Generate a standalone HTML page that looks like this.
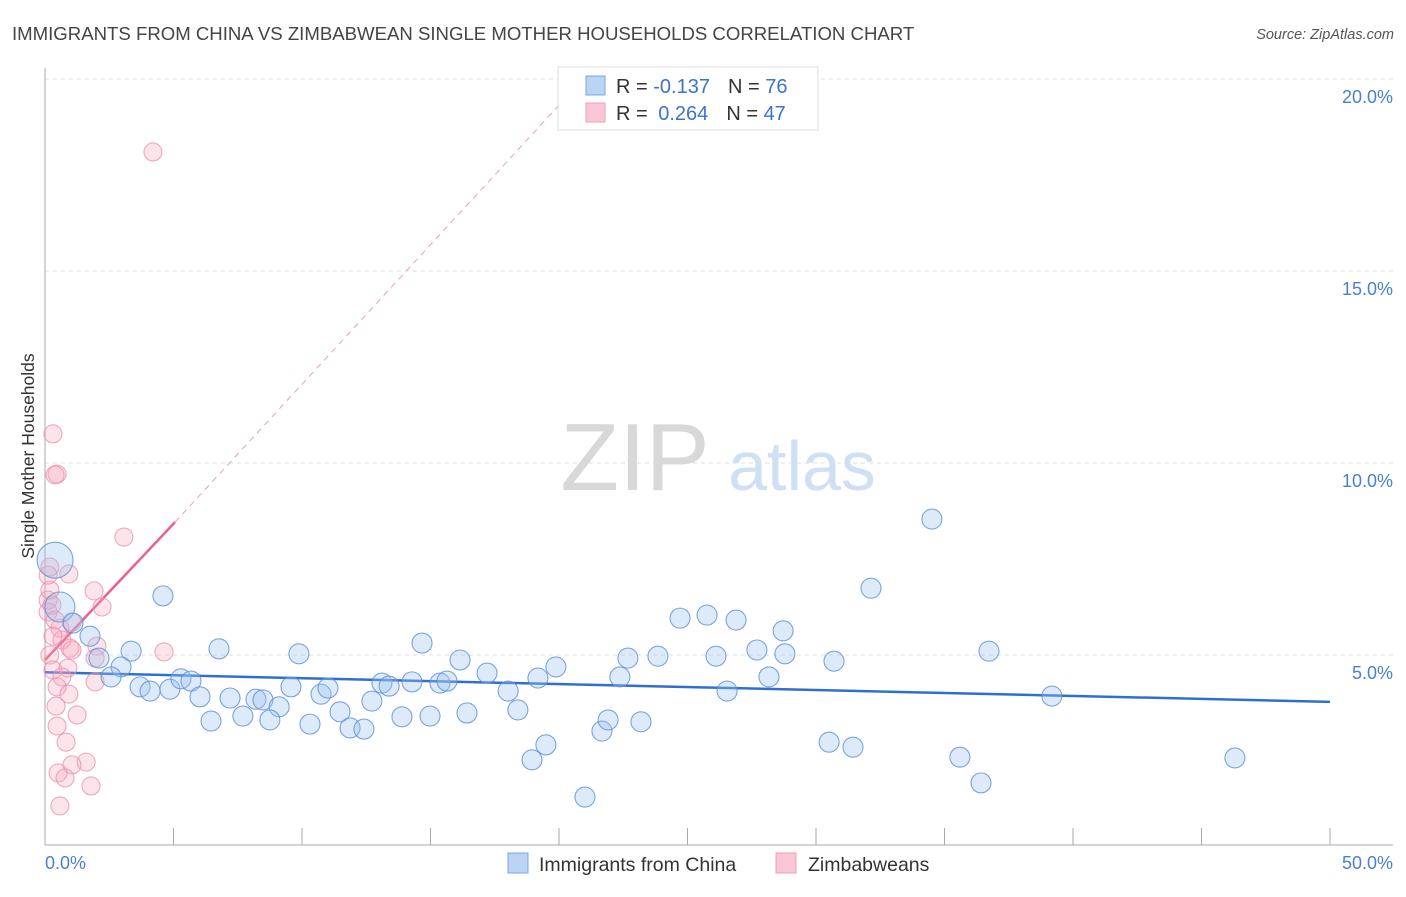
<!DOCTYPE html>
<html><head><meta charset="utf-8">
<style>
body{margin:0;background:#fff;font-family:"Liberation Sans",sans-serif;}
svg text{font-family:"Liberation Sans",sans-serif;}
</style></head>
<body>
<svg id="chart" width="1406" height="892" viewBox="0 0 1406 892" xmlns="http://www.w3.org/2000/svg">
<text x="12" y="40" font-size="18.6" fill="#444">IMMIGRANTS FROM CHINA VS ZIMBABWEAN SINGLE MOTHER HOUSEHOLDS CORRELATION CHART</text>
<text x="1394" y="39" font-size="14.5" fill="#555" text-anchor="end" font-style="italic">Source: ZipAtlas.com</text>
<g>
<text x="635" y="490" font-size="96" fill="#d8d8d8" font-family="Liberation Serif" text-anchor="middle">ZIP</text>
<text x="802" y="490" font-size="70" fill="#cfe0f4" text-anchor="middle">atlas</text>
</g>
<g id="grid"></g>
<g id="axes"></g>
<g id="trend"></g>
<g id="marks"></g>
<text transform="translate(34,456) rotate(-90)" font-size="17.5" fill="#333" text-anchor="middle">Single Mother Households</text>
<g>
<rect x="558" y="67" width="260" height="63" fill="#fff" stroke="#ddd"/>
<rect x="586" y="76" width="19" height="19" fill="#bcd4f4" stroke="#7aa6e0"/>
<rect x="586" y="103" width="19" height="19" fill="#f9c6d5" stroke="#eda0b8"/>
<text x="616" y="93" font-size="20" fill="#333">R = <tspan fill="#3a73d0">-0.137</tspan><tspan dx="18">N = </tspan><tspan fill="#3a73d0">76</tspan></text>
<text x="616" y="120" font-size="20" fill="#333">R = <tspan fill="#3a73d0" dx="5">0.264</tspan><tspan dx="18">N = </tspan><tspan fill="#3a73d0">47</tspan></text>
</g>
<g>
<rect x="508" y="853" width="20" height="20" fill="#bcd4f4" stroke="#7aa6e0"/>
<text x="539" y="871" font-size="19.5" fill="#333">Immigrants from China</text>
<rect x="776" y="853" width="20" height="20" fill="#f9c6d5" stroke="#eda0b8"/>
<text x="808" y="871" font-size="19.5" fill="#333">Zimbabweans</text>
</g>
</svg>
<script>
const yTicks=[5,10,15,20];
const xTickLabels=["0.0%","50.0%"];
const chinaX=[0.39,0.58,1.09,1.75,2.10,3.35,2.96,2.57,3.70,4.09,4.86,5.29,5.68,6.03,4.59,6.77,7.20,6.46,7.70,8.21,8.48,9.11,8.75,9.57,9.88,10.31,10.74,11.01,11.48,11.87,12.41,12.72,13.11,13.39,13.89,14.28,14.67,14.98,15.37,15.64,16.15,16.42,17.20,18.02,18.40,18.95,19.18,19.49,19.88,21.01,21.67,21.91,22.37,22.68,23.19,23.85,24.71,25.76,26.11,26.54,26.89,27.70,28.17,28.72,28.79,30.51,30.70,31.44,32.14,34.51,35.60,36.42,36.73,39.18,46.30];
const chinaY=[7.47,6.25,5.83,5.49,4.92,5.10,4.69,4.43,4.17,4.06,4.11,4.38,4.32,3.91,6.54,5.16,3.88,3.28,3.41,3.85,3.83,3.65,3.31,4.17,5.03,3.20,3.98,4.14,3.52,3.10,3.07,3.80,4.27,4.19,3.39,4.30,5.31,3.41,4.27,4.32,4.87,3.49,4.53,4.06,3.57,2.27,4.40,2.66,4.69,1.30,3.02,3.31,4.43,4.92,3.26,4.97,5.96,6.04,4.97,4.06,5.91,5.13,4.43,5.63,5.03,2.73,4.84,2.60,6.74,8.54,2.34,1.67,5.10,3.93,2.32];
const chinaSize=[18,15,10,10,10,10,10,10,10,10,10,10,10,10,10,10,10,10,10,10,10,10,10,10,10,10,10,10,10,10,10,10,10,10,10,10,10,10,10,10,10,10,10,10,10,10,10,10,10,10,10,10,10,10,10,10,10,10,10,10,10,10,10,10,10,10,10,10,10,10,10,10,10,10,10];
const zimX=[4.20,0.31,0.47,0.39,3.07,0.19,0.93,1.91,2.22,0.12,0.27,0.12,0.39,0.58,1.05,0.66,0.97,1.05,2.02,0.31,4.63,1.95,0.19,0.31,0.89,0.66,0.47,1.95,0.93,0.43,1.25,0.47,0.82,1.60,1.05,0.51,0.78,1.79,0.58,0.19,0.12];
const zimY=[18.10,10.76,9.71,9.69,8.07,7.29,7.11,6.67,6.25,6.43,6.30,6.12,5.91,5.70,5.86,5.39,5.18,5.13,5.23,5.49,5.08,4.92,5.00,4.61,4.66,4.43,4.17,4.30,3.98,3.67,3.44,3.15,2.73,2.21,2.14,1.93,1.80,1.59,1.07,6.69,7.08];
const chinaTrend=[[0,4.55],[50,3.78]];
const zimTrend=[[0,4.87],[5.06,8.46]];
const zimTrendExt=[[5.06,8.46],[20.8,19.9]];

const NS="http://www.w3.org/2000/svg";
const X0=45,X1=1330,Y0=847,PXY=38.4;
const sx=v=>X0+(X1-X0)*v/50;
const sy=v=>Y0-PXY*v;
function mk(tag,attrs,parent){const e=document.createElementNS(NS,tag);for(const k in attrs)e.setAttribute(k,attrs[k]);parent.appendChild(e);return e;}
const grid=document.getElementById('grid'),axes=document.getElementById('axes'),marks=document.getElementById('marks'),trend=document.getElementById('trend');
yTicks.forEach(t=>{
 const l=mk('line',{x1:X0,x2:1393,y1:sy(t),y2:sy(t),stroke:'#ddd','stroke-dasharray':'4,4'},grid);
 
 
 const tx=mk('text',{x:1393,y:sy(t)+24,'font-size':18,fill:'#4a7fd4','text-anchor':'end'},axes);
 tx.textContent=t.toFixed(1)+'%';
 
 
});
let a=mk('line',{x1:X0,x2:X0,y1:68,y2:845,stroke:'#aaa'},axes);


a=mk('line',{x1:X0,x2:1393,y1:845,y2:845,stroke:'#aaa'},axes);


for(let i=0;i<=10;i++){
 const t=mk('line',{x1:sx(i*5),x2:sx(i*5),y1:828,y2:845,stroke:'#aaa'},axes);
 
 
}
let xl=mk('text',{x:45,y:869,'font-size':18,fill:'#4a7fd4'},axes);xl.textContent=xTickLabels[0];


xl=mk('text',{x:1393,y:869,'font-size':18,fill:'#4a7fd4','text-anchor':'end'},axes);xl.textContent=xTickLabels[1];



zimX.forEach((v,i)=>{
 const c=mk('circle',{cx:sx(v),cy:sy(zimY[i]),r:9,fill:'#f4a7bd','fill-opacity':0.3,stroke:'#ea8eab','stroke-opacity':0.75,'stroke-width':1.1},marks);
 
 
});
chinaX.forEach((v,i)=>{
 const c=mk('circle',{cx:sx(v),cy:sy(chinaY[i]),r:chinaSize[i],fill:'#9fc2ee','fill-opacity':0.35,stroke:'#5b8fd8','stroke-opacity':0.8,'stroke-width':1.1},marks);
 
 
});
let t=mk('line',{x1:sx(chinaTrend[0][0]),y1:sy(chinaTrend[0][1]),x2:sx(chinaTrend[1][0]),y2:sy(chinaTrend[1][1]),stroke:'#2f6fd0','stroke-width':2.5},trend);


t=mk('line',{x1:sx(zimTrend[0][0]),y1:sy(zimTrend[0][1]),x2:sx(zimTrend[1][0]),y2:sy(zimTrend[1][1]),stroke:'#e8628c','stroke-width':2.5},trend);


t=mk('line',{x1:sx(zimTrendExt[0][0]),y1:sy(zimTrendExt[0][1]),x2:sx(zimTrendExt[1][0]),y2:sy(zimTrendExt[1][1]),stroke:'#e8a0b5','stroke-width':1,'stroke-dasharray':'6,5'},trend);


</script>
</body></html>
